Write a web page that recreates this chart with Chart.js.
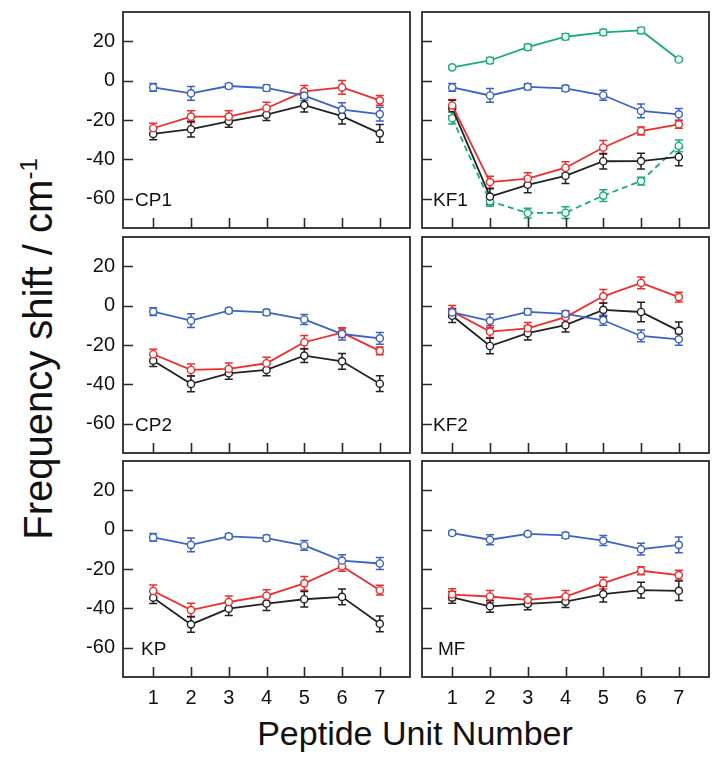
<!DOCTYPE html>
<html>
<head>
<meta charset="utf-8">
<script src="https://cdn.jsdelivr.net/npm/chart.js@4/dist/chart.umd.min.js"></script>
<style>
  body { margin: 0; background: #fff; width: 722px; height: 762px; position: relative; overflow: hidden; font-family: "Liberation Sans", Arial, sans-serif; }
  canvas { position: absolute; }
  .xtitle { position: absolute; left: 115px; width: 600px; top: 714px; text-align: center; font-size: 34px; color: #111; }
  .ytitle { position: absolute; left: 38px; top: 349px; width: 440px; margin-left: -220px; text-align: center; font-size: 40px; color: #111; transform: translateY(-50%) rotate(-90deg); white-space: nowrap; }
  .ytitle sup { font-size: 24px; }
</style>
</head>
<body>
<div class="ytitle">Frequency shift / cm<sup>-1</sup></div>
<div class="xtitle">Peptide Unit Number</div>
<script>
// Peptide unit numbers and axis ticks
const units = [1, 2, 3, 4, 5, 6, 7];
const yTicks = [-60, -40, -20, 0, 20];

// CP1
const cp1Blue = [-3.4, -6.4, -2.7, -3.7, -7.6, -14.7, -17];
const cp1BlueErr = [2, 3.5, 1.2, 1.5, 2.5, 3.5, 3.5];
const cp1Red = [-24.2, -18.3, -18.3, -14, -5.4, -3.4, -10];
const cp1RedErr = [2.5, 3, 3, 3, 3, 3.5, 2.5];
const cp1Black = [-27.1, -24.7, -20.7, -17.3, -12.4, -18, -26.8];
const cp1BlackErr = [3, 4, 3, 3, 3.5, 4, 4.5];

// KF1
const kf1Green = [6.8, 10.3, 17.1, 22.4, 24.6, 25.6, 10.8];
const kf1GreenErr = [1, 1.5, 1.5, 1.5, 1.5, 1.5, 0.7];
const kf1Blue = [-3.4, -7.5, -3.1, -3.9, -7.4, -15.4, -17.1];
const kf1BlueErr = [2, 3.5, 1.5, 1.5, 2.5, 3.5, 3];
const kf1Red = [-12.6, -51.6, -49.9, -44.3, -34, -25.6, -22.2];
const kf1RedErr = [3, 3, 3, 3, 3.5, 2, 2];
const kf1Black = [-14, -59, -53, -48.4, -41, -40.9, -38.8];
const kf1BlackErr = [4, 4, 4, 4, 4, 4, 4.5];
const kf1GreenDash = [-19.1, -61.4, -67.4, -67.2, -58.5, -51.1, -33.2];
const kf1GreenDashErr = [3, 2.5, 2.5, 3, 3, 2, 3];

// CP2
const cp2Blue = [-3, -7.6, -2.5, -3.4, -7, -14.4, -16.6];
const cp2BlueErr = [2, 3.5, 1.2, 1.5, 2.5, 3, 3];
const cp2Red = [-24.7, -32.7, -32.2, -29.3, -18.6, -13.7, -23];
const cp2RedErr = [2.5, 3, 3, 3, 3.5, 2.5, 2];
const cp2Black = [-28, -39.8, -34.4, -32.7, -25.4, -28.3, -39.7];
const cp2BlackErr = [3, 4, 3, 3, 3.5, 4, 4];

// KF2
const kf2Blue = [-3.4, -7.7, -3.1, -4.1, -7.4, -15.4, -17.1];
const kf2BlueErr = [2, 3.5, 1.5, 1.5, 2.5, 3, 3];
const kf2Red = [-2.9, -13.2, -11.5, -5.8, 4.8, 11.6, 4.4];
const kf2RedErr = [3, 3, 3, 3, 3.5, 3, 2.5];
const kf2Black = [-5.1, -20.5, -14, -9.9, -2.1, -3.2, -12.8];
const kf2BlackErr = [3.5, 4, 3.5, 3.5, 3.5, 5, 4.5];

// KP
const kpBlue = [-3.9, -7.7, -3.4, -4.3, -8, -15.7, -17.2];
const kpBlueErr = [2, 3.5, 1.2, 1.5, 2.5, 3, 3];
const kpRed = [-31.2, -40.9, -36.8, -33.6, -27.3, -18.6, -30.8];
const kpRedErr = [3, 3.5, 3, 3, 3.5, 2.5, 2.5];
const kpBlack = [-34.6, -48.2, -40.2, -37.6, -35.4, -34.2, -47.9];
const kpBlackErr = [3, 4, 3.5, 3.5, 4, 4, 4];

// MF
const mfBlue = [-1.7, -5.1, -2.1, -2.9, -5.5, -9.9, -7.7];
const mfBlueErr = [1, 2.5, 1, 1.5, 2.5, 3, 4];
const mfRed = [-33, -34, -35.7, -34, -27.2, -20.9, -23.1];
const mfRedErr = [3, 3, 3, 3, 3, 2, 2.5];
const mfBlack = [-34.5, -39, -37.8, -36.6, -32.8, -30.8, -31.1];
const mfBlackErr = [3, 3, 3, 3, 4, 4, 5];

const BLUE = '#3b62c4', RED = '#f22b2b', BLACK = '#222222', GREEN = '#16ae74';

function series(vals, errs, color, dashed) {
  return {
    data: vals.map((v, i) => ({ x: units[i], y: v })),
    errors: errs,
    showLine: true,
    borderColor: color,
    borderWidth: 1.8,
    borderDash: dashed ? [6, 4] : [],
    pointRadius: 3.6,
    pointBorderWidth: 1.4,
    pointBorderColor: color,
    pointBackgroundColor: '#fff',
    tension: 0
  };
}

const panels = [
  { label: 'CP1', col: 0, row: 0, lx: 135, sets: [
    series(cp1Blue, cp1BlueErr, BLUE), series(cp1Red, cp1RedErr, RED), series(cp1Black, cp1BlackErr, BLACK)] },
  { label: 'KF1', col: 1, row: 0, lx: 433, sets: [
    series(kf1Green, kf1GreenErr, GREEN), series(kf1Blue, kf1BlueErr, BLUE), series(kf1Red, kf1RedErr, RED),
    series(kf1Black, kf1BlackErr, BLACK), series(kf1GreenDash, kf1GreenDashErr, GREEN, true)] },
  { label: 'CP2', col: 0, row: 1, lx: 135, sets: [
    series(cp2Blue, cp2BlueErr, BLUE), series(cp2Red, cp2RedErr, RED), series(cp2Black, cp2BlackErr, BLACK)] },
  { label: 'KF2', col: 1, row: 1, lx: 433, sets: [
    series(kf2Blue, kf2BlueErr, BLUE), series(kf2Red, kf2RedErr, RED), series(kf2Black, kf2BlackErr, BLACK)] },
  { label: 'KP', col: 0, row: 2, lx: 141, sets: [
    series(kpBlue, kpBlueErr, BLUE), series(kpRed, kpRedErr, RED), series(kpBlack, kpBlackErr, BLACK)] },
  { label: 'MF', col: 1, row: 2, lx: 438, sets: [
    series(mfBlue, mfBlueErr, BLUE), series(mfRed, mfRedErr, RED), series(mfBlack, mfBlackErr, BLACK)] }
];

// error bars under the markers, frame, inner ticks and panel label on top
const framePlugin = {
  id: 'frame',
  beforeDatasetsDraw(chart) {
    const { ctx, scales: { x, y } } = chart;
    chart.data.datasets.forEach(ds => {
      ctx.save();
      ctx.strokeStyle = ds.borderColor;
      ctx.lineWidth = 1.5;
      ds.data.forEach((p, i) => {
        const px = x.getPixelForValue(p.x);
        const top = y.getPixelForValue(p.y + ds.errors[i]);
        const bot = y.getPixelForValue(p.y - ds.errors[i]);
        ctx.beginPath();
        ctx.moveTo(px, top); ctx.lineTo(px, bot);
        ctx.moveTo(px - 4, top); ctx.lineTo(px + 4, top);
        ctx.moveTo(px - 4, bot); ctx.lineTo(px + 4, bot);
        ctx.stroke();
      });
      ctx.restore();
    });
  },
  afterDraw(chart) {
    const { ctx, chartArea: a, scales: { x, y } } = chart;
    ctx.save();
    ctx.strokeStyle = '#2a2a2a';
    ctx.lineWidth = 1.8;
    ctx.strokeRect(a.left, a.top, a.right - a.left, a.bottom - a.top);
    ctx.lineWidth = 1.6;
    ctx.beginPath();
    yTicks.forEach(v => {
      const py = Math.round(y.getPixelForValue(v)) + 0.5;
      ctx.moveTo(a.left, py); ctx.lineTo(a.left + 10, py);
    });
    units.forEach(v => {
      const px = Math.round(x.getPixelForValue(v)) + 0.5;
      ctx.moveTo(px, a.bottom); ctx.lineTo(px, a.bottom - 10);
    });
    ctx.stroke();
    const p = chart.options.plugins.frame;
    ctx.fillStyle = '#111';
    ctx.font = '19px "Liberation Sans", Arial, sans-serif';
    ctx.textBaseline = 'middle';
    ctx.fillText(p.label, p.lx - p.canvasLeft, y.getPixelForValue(-61));
    ctx.restore();
  }
};

const colLeft = [123, 422];
const rowTop = [12, 237, 461];
const panelW = 287, panelH = 216;

panels.forEach(pn => {
  const showY = pn.col === 0;
  const showX = pn.row === 2;
  const yW = showY ? 63 : 0;
  const xH = showX ? 34 : 0;
  const pad = { top: 5, right: 5, bottom: showX ? 0 : 5, left: showY ? 0 : 5 };
  const cv = document.createElement('canvas');
  const left = colLeft[pn.col] - yW - pad.left;
  const width = pad.left + yW + panelW + pad.right;
  const height = pad.top + panelH + xH + pad.bottom;
  cv.width = width; cv.height = height;
  cv.style.left = left + 'px';
  cv.style.top = (rowTop[pn.row] - pad.top) + 'px';
  cv.style.width = width + 'px'; cv.style.height = height + 'px';
  document.body.appendChild(cv);

  new Chart(cv.getContext('2d'), {
    type: 'scatter',
    data: { datasets: pn.sets },
    options: {
      responsive: false,
      animation: false,
      devicePixelRatio: 1,
      layout: { padding: pad, autoPadding: false },
      plugins: {
        legend: { display: false },
        tooltip: { enabled: false },
        frame: { label: pn.label, lx: pn.lx, canvasLeft: left }
      },
      scales: {
        x: {
          type: 'linear', min: 0.2, max: 7.8,
          afterBuildTicks: s => { s.ticks = units.map(v => ({ value: v })); },
          afterFit: s => { s.height = xH; s.paddingLeft = 0; s.paddingRight = 0; },
          grid: { display: false, drawTicks: false },
          border: { display: false },
          ticks: { display: showX, padding: 9, color: '#111', font: { size: 20, family: '"Liberation Sans", Arial, sans-serif' } }
        },
        y: {
          type: 'linear', min: -75, max: 35,
          afterBuildTicks: s => { s.ticks = yTicks.map(v => ({ value: v })); },
          afterFit: s => { s.width = yW; s.paddingTop = 0; s.paddingBottom = 0; },
          grid: { display: false, drawTicks: false },
          border: { display: false },
          ticks: { display: showY, padding: 8, color: '#111', font: { size: 20, family: '"Liberation Sans", Arial, sans-serif' } }
        }
      }
    },
    plugins: [framePlugin]
  });
});
</script>
</body>
</html>
